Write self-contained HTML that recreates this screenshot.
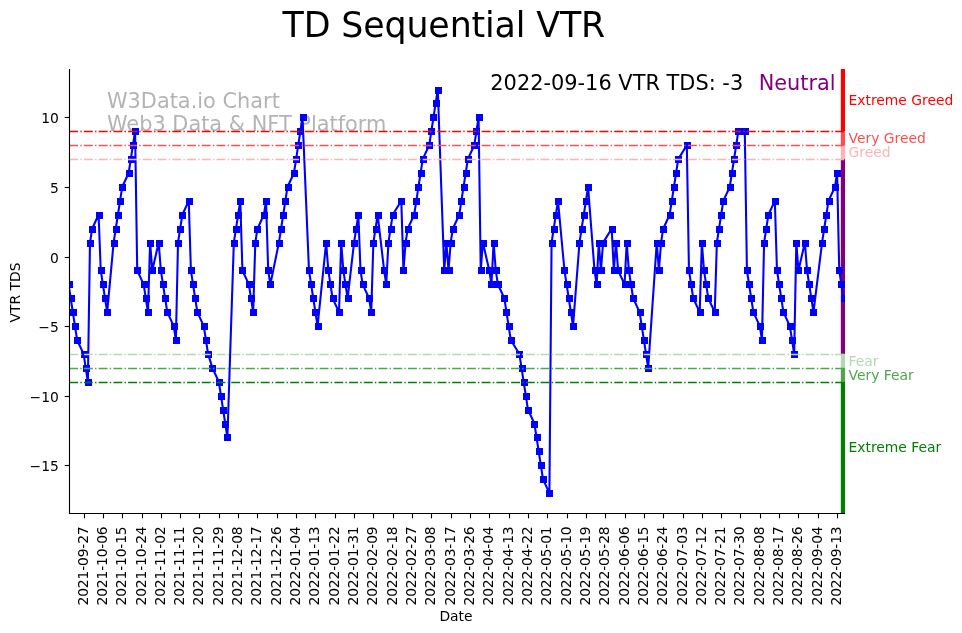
<!DOCTYPE html>
<html lang="en"><head><meta charset="utf-8"><title>TD Sequential VTR</title>
<style>html,body{margin:0;padding:0;background:#fff}body{width:962px;height:633px;overflow:hidden}svg{display:block}</style>
</head><body>
<svg width="962" height="633" viewBox="0 0 962 633" font-family="DejaVu Sans, Liberation Sans, sans-serif">
<rect width="962" height="633" fill="#fff"/>
<defs><clipPath id="ax"><rect x="69.0" y="69.0" width="776.0" height="444.5"/></clipPath></defs>
<text x="106.9" y="107.8" font-size="20.88" fill="#808080" fill-opacity="0.6">W3Data.io Chart</text>
<text x="106.9" y="130.5" font-size="20.88" fill="#808080" fill-opacity="0.6">Web3 Data &amp; NFT Platform</text>
<g clip-path="url(#ax)">
<rect x="840.83" y="69.00" width="4.17" height="62.28" fill="#ff0000" fill-opacity="1"/>
<rect x="840.83" y="131.28" width="4.17" height="13.92" fill="#ff4d4d" fill-opacity="1"/>
<rect x="840.83" y="145.19" width="4.17" height="13.92" fill="#ffb3b3" fill-opacity="1"/>
<rect x="840.83" y="159.11" width="4.17" height="194.82" fill="#800080" fill-opacity="1"/>
<rect x="840.83" y="353.93" width="4.17" height="13.92" fill="#b3d9b3" fill-opacity="1"/>
<rect x="840.83" y="367.85" width="4.17" height="13.92" fill="#4da64d" fill-opacity="1"/>
<rect x="840.83" y="381.76" width="4.17" height="131.74" fill="#008000" fill-opacity="1"/>
<polyline points="68.54,284.35 70.68,298.27 72.83,312.18 74.98,326.10 77.12,340.02 83.56,353.93 85.71,367.85 87.86,381.76 90.00,242.60 92.15,228.69 98.59,214.77 100.74,270.44 102.89,284.35 105.03,298.27 107.18,312.18 113.62,242.60 115.77,228.69 117.91,214.77 120.06,200.86 122.21,186.94 128.65,173.02 130.79,159.11 132.94,145.19 135.09,131.28 137.23,270.44 143.67,284.35 145.82,298.27 147.97,312.18 150.11,242.60 152.26,270.44 158.70,242.60 160.85,270.44 163.00,284.35 165.14,298.27 167.29,312.18 173.73,326.10 175.88,340.02 178.02,242.60 180.17,228.69 182.32,214.77 188.76,200.86 190.90,270.44 193.05,284.35 195.20,298.27 197.34,312.18 203.79,326.10 205.93,340.02 208.08,353.93 212.37,367.85 218.81,381.76 220.96,395.68 223.11,409.60 225.25,423.51 227.40,437.43 233.84,242.60 235.99,228.69 238.13,214.77 240.28,200.86 242.43,270.44 248.87,284.35 251.02,298.27 253.16,312.18 255.31,242.60 257.46,228.69 263.90,214.77 266.04,200.86 268.19,270.44 270.34,284.35 278.92,242.60 281.07,228.69 283.22,214.77 285.36,200.86 287.51,186.94 293.95,173.02 296.10,159.11 298.25,145.19 300.39,131.28 302.54,117.36 308.98,270.44 311.13,284.35 313.27,298.27 315.42,312.18 317.57,326.10 326.15,242.60 328.30,270.44 330.45,284.35 332.59,298.27 339.03,312.18 341.18,242.60 343.33,270.44 345.48,284.35 347.62,298.27 354.06,242.60 356.21,228.69 358.36,214.77 360.50,270.44 362.65,284.35 369.09,298.27 371.24,312.18 373.38,242.60 375.53,228.69 377.68,214.77 384.12,270.44 386.26,284.35 388.41,242.60 390.56,228.69 392.70,214.77 401.29,200.86 403.44,270.44 405.59,242.60 407.73,228.69 414.17,214.77 416.32,200.86 418.47,186.94 420.61,173.02 422.76,159.11 429.20,145.19 431.35,131.28 433.49,117.36 435.64,103.44 437.79,89.53 444.23,270.44 446.38,242.60 448.52,270.44 450.67,242.60 452.82,228.69 459.26,214.77 461.40,200.86 463.55,186.94 465.70,173.02 467.84,159.11 474.28,145.19 476.43,131.28 478.58,117.36 480.72,270.44 482.87,242.60 489.31,270.44 491.46,284.35 493.61,242.60 495.75,270.44 497.90,284.35 504.34,298.27 506.49,312.18 508.63,326.10 510.78,340.02 519.37,353.93 521.51,367.85 523.66,381.76 525.81,395.68 527.95,409.60 534.39,423.51 536.54,437.43 538.69,451.34 540.84,465.26 542.98,479.18 549.42,493.09 551.57,242.60 553.72,228.69 555.86,214.77 558.01,200.86 564.45,270.44 566.60,284.35 568.74,298.27 570.89,312.18 573.04,326.10 579.48,242.60 581.62,228.69 583.77,214.77 585.92,200.86 588.07,186.94 594.51,270.44 596.65,284.35 598.80,242.60 600.95,270.44 603.09,242.60 611.68,228.69 613.83,270.44 615.97,242.60 618.12,270.44 624.56,284.35 626.71,242.60 628.85,270.44 631.00,284.35 633.15,298.27 639.59,312.18 641.74,326.10 643.88,340.02 646.03,353.93 648.18,367.85 656.76,242.60 658.91,270.44 661.06,242.60 663.20,228.69 669.64,214.77 671.79,200.86 673.94,186.94 676.08,173.02 678.23,159.11 686.82,145.19 688.97,270.44 691.11,284.35 693.26,298.27 699.70,312.18 701.85,242.60 703.99,270.44 706.14,284.35 708.29,298.27 714.73,312.18 716.87,242.60 719.02,228.69 721.17,214.77 723.31,200.86 729.75,186.94 731.90,173.02 734.05,159.11 736.20,145.19 738.34,131.28 744.78,131.28 746.93,270.44 749.08,284.35 751.22,298.27 753.37,312.18 759.81,326.10 761.96,340.02 764.10,242.60 766.25,228.69 768.40,214.77 774.84,200.86 776.98,270.44 779.13,284.35 781.28,298.27 783.43,312.18 789.87,326.10 792.01,340.02 794.16,353.93 796.31,242.60 798.45,270.44 804.89,242.60 807.04,270.44 809.19,284.35 811.33,298.27 813.48,312.18 822.07,242.60 824.21,228.69 826.36,214.77 828.51,200.86 834.95,186.94 837.10,173.02 839.24,270.44 841.39,284.35 843.54,298.27" fill="none" stroke="#0000ff" stroke-width="2.08" stroke-linejoin="round"/>
<path d="M66 281h7v7h-7zM68 295h7v7h-7zM70 309h7v7h-7zM72 323h7v7h-7zM74 337h7v7h-7zM81 351h7v7h-7zM83 365h7v7h-7zM85 379h7v7h-7zM87 240h7v7h-7zM89 226h7v7h-7zM96 212h7v7h-7zM98 267h7v7h-7zM100 281h7v7h-7zM102 295h7v7h-7zM104 309h7v7h-7zM111 240h7v7h-7zM113 226h7v7h-7zM115 212h7v7h-7zM117 198h7v7h-7zM119 184h7v7h-7zM126 170h7v7h-7zM128 156h7v7h-7zM130 142h7v7h-7zM132 128h7v7h-7zM134 267h7v7h-7zM141 281h7v7h-7zM143 295h7v7h-7zM145 309h7v7h-7zM147 240h7v7h-7zM149 267h7v7h-7zM156 240h7v7h-7zM158 267h7v7h-7zM160 281h7v7h-7zM162 295h7v7h-7zM164 309h7v7h-7zM171 323h7v7h-7zM173 337h7v7h-7zM175 240h7v7h-7zM177 226h7v7h-7zM179 212h7v7h-7zM186 198h7v7h-7zM188 267h7v7h-7zM190 281h7v7h-7zM192 295h7v7h-7zM194 309h7v7h-7zM201 323h7v7h-7zM203 337h7v7h-7zM205 351h7v7h-7zM209 365h7v7h-7zM216 379h7v7h-7zM218 393h7v7h-7zM220 407h7v7h-7zM222 421h7v7h-7zM224 434h7v7h-7zM231 240h7v7h-7zM233 226h7v7h-7zM235 212h7v7h-7zM237 198h7v7h-7zM239 267h7v7h-7zM246 281h7v7h-7zM248 295h7v7h-7zM250 309h7v7h-7zM252 240h7v7h-7zM254 226h7v7h-7zM261 212h7v7h-7zM263 198h7v7h-7zM265 267h7v7h-7zM267 281h7v7h-7zM276 240h7v7h-7zM278 226h7v7h-7zM280 212h7v7h-7zM282 198h7v7h-7zM285 184h7v7h-7zM291 170h7v7h-7zM293 156h7v7h-7zM295 142h7v7h-7zM297 128h7v7h-7zM300 114h7v7h-7zM306 267h7v7h-7zM308 281h7v7h-7zM310 295h7v7h-7zM312 309h7v7h-7zM315 323h7v7h-7zM323 240h7v7h-7zM325 267h7v7h-7zM327 281h7v7h-7zM330 295h7v7h-7zM336 309h7v7h-7zM338 240h7v7h-7zM340 267h7v7h-7zM342 281h7v7h-7zM345 295h7v7h-7zM351 240h7v7h-7zM353 226h7v7h-7zM355 212h7v7h-7zM358 267h7v7h-7zM360 281h7v7h-7zM366 295h7v7h-7zM368 309h7v7h-7zM370 240h7v7h-7zM373 226h7v7h-7zM375 212h7v7h-7zM381 267h7v7h-7zM383 281h7v7h-7zM385 240h7v7h-7zM388 226h7v7h-7zM390 212h7v7h-7zM398 198h7v7h-7zM400 267h7v7h-7zM403 240h7v7h-7zM405 226h7v7h-7zM411 212h7v7h-7zM413 198h7v7h-7zM415 184h7v7h-7zM418 170h7v7h-7zM420 156h7v7h-7zM426 142h7v7h-7zM428 128h7v7h-7zM430 114h7v7h-7zM433 100h7v7h-7zM435 87h7v7h-7zM441 267h7v7h-7zM443 240h7v7h-7zM446 267h7v7h-7zM448 240h7v7h-7zM450 226h7v7h-7zM456 212h7v7h-7zM458 198h7v7h-7zM461 184h7v7h-7zM463 170h7v7h-7zM465 156h7v7h-7zM471 142h7v7h-7zM473 128h7v7h-7zM476 114h7v7h-7zM478 267h7v7h-7zM480 240h7v7h-7zM486 267h7v7h-7zM488 281h7v7h-7zM491 240h7v7h-7zM493 267h7v7h-7zM495 281h7v7h-7zM501 295h7v7h-7zM503 309h7v7h-7zM506 323h7v7h-7zM508 337h7v7h-7zM516 351h7v7h-7zM519 365h7v7h-7zM521 379h7v7h-7zM523 393h7v7h-7zM525 407h7v7h-7zM531 421h7v7h-7zM534 434h7v7h-7zM536 448h7v7h-7zM538 462h7v7h-7zM540 476h7v7h-7zM546 490h7v7h-7zM549 240h7v7h-7zM551 226h7v7h-7zM553 212h7v7h-7zM555 198h7v7h-7zM561 267h7v7h-7zM564 281h7v7h-7zM566 295h7v7h-7zM568 309h7v7h-7zM570 323h7v7h-7zM576 240h7v7h-7zM579 226h7v7h-7zM581 212h7v7h-7zM583 198h7v7h-7zM585 184h7v7h-7zM592 267h7v7h-7zM594 281h7v7h-7zM596 240h7v7h-7zM598 267h7v7h-7zM600 240h7v7h-7zM609 226h7v7h-7zM611 267h7v7h-7zM613 240h7v7h-7zM615 267h7v7h-7zM622 281h7v7h-7zM624 240h7v7h-7zM626 267h7v7h-7zM628 281h7v7h-7zM630 295h7v7h-7zM637 309h7v7h-7zM639 323h7v7h-7zM641 337h7v7h-7zM643 351h7v7h-7zM645 365h7v7h-7zM654 240h7v7h-7zM656 267h7v7h-7zM658 240h7v7h-7zM660 226h7v7h-7zM667 212h7v7h-7zM669 198h7v7h-7zM671 184h7v7h-7zM673 170h7v7h-7zM675 156h7v7h-7zM684 142h7v7h-7zM686 267h7v7h-7zM688 281h7v7h-7zM690 295h7v7h-7zM697 309h7v7h-7zM699 240h7v7h-7zM701 267h7v7h-7zM703 281h7v7h-7zM705 295h7v7h-7zM712 309h7v7h-7zM714 240h7v7h-7zM716 226h7v7h-7zM718 212h7v7h-7zM720 198h7v7h-7zM727 184h7v7h-7zM729 170h7v7h-7zM731 156h7v7h-7zM733 142h7v7h-7zM735 128h7v7h-7zM742 128h7v7h-7zM744 267h7v7h-7zM746 281h7v7h-7zM748 295h7v7h-7zM750 309h7v7h-7zM757 323h7v7h-7zM759 337h7v7h-7zM761 240h7v7h-7zM763 226h7v7h-7zM765 212h7v7h-7zM772 198h7v7h-7zM774 267h7v7h-7zM776 281h7v7h-7zM778 295h7v7h-7zM780 309h7v7h-7zM787 323h7v7h-7zM789 337h7v7h-7zM791 351h7v7h-7zM793 240h7v7h-7zM795 267h7v7h-7zM802 240h7v7h-7zM804 267h7v7h-7zM806 281h7v7h-7zM808 295h7v7h-7zM810 309h7v7h-7zM819 240h7v7h-7zM821 226h7v7h-7zM823 212h7v7h-7zM826 198h7v7h-7zM832 184h7v7h-7zM834 170h7v7h-7zM836 267h7v7h-7zM838 281h7v7h-7zM841 295h7v7h-7z" fill="#0000ff" shape-rendering="crispEdges"/>
<line x1="69.2" x2="844.5" y1="131.5" y2="131.5" stroke="#ff0000" stroke-opacity="1" stroke-width="1.39" stroke-dasharray="8.9 2.22 1.39 2.22"/>
<line x1="69.2" x2="844.5" y1="145.5" y2="145.5" stroke="#ff4d4d" stroke-opacity="1" stroke-width="1.39" stroke-dasharray="8.9 2.22 1.39 2.22"/>
<line x1="69.2" x2="844.5" y1="159.5" y2="159.5" stroke="#ffb3b3" stroke-opacity="1" stroke-width="1.39" stroke-dasharray="8.9 2.22 1.39 2.22"/>
<line x1="69.2" x2="844.5" y1="354.5" y2="354.5" stroke="#b3d9b3" stroke-opacity="1" stroke-width="1.39" stroke-dasharray="8.9 2.22 1.39 2.22"/>
<line x1="69.2" x2="844.5" y1="368.5" y2="368.5" stroke="#4da64d" stroke-opacity="1" stroke-width="1.39" stroke-dasharray="8.9 2.22 1.39 2.22"/>
<line x1="69.2" x2="844.5" y1="382.5" y2="382.5" stroke="#008000" stroke-opacity="1" stroke-width="1.39" stroke-dasharray="8.9 2.22 1.39 2.22"/>
</g>
<path d="M69.5 69.5V513.5H844.5" fill="none" stroke="#000" stroke-width="1.11" stroke-linecap="square"/>
<line x1="64.64" x2="69.5" y1="117.50" y2="117.50" stroke="#000" stroke-width="1.11"/>
<text x="58.80" y="123.30" font-size="13.89" text-anchor="end">10</text>
<line x1="64.64" x2="69.5" y1="187.50" y2="187.50" stroke="#000" stroke-width="1.11"/>
<text x="58.80" y="193.30" font-size="13.89" text-anchor="end">5</text>
<line x1="64.64" x2="69.5" y1="257.50" y2="257.50" stroke="#000" stroke-width="1.11"/>
<text x="58.80" y="263.30" font-size="13.89" text-anchor="end">0</text>
<line x1="64.64" x2="69.5" y1="326.50" y2="326.50" stroke="#000" stroke-width="1.11"/>
<text x="58.80" y="332.30" font-size="13.89" text-anchor="end">−5</text>
<line x1="64.64" x2="69.5" y1="396.50" y2="396.50" stroke="#000" stroke-width="1.11"/>
<text x="58.80" y="402.30" font-size="13.89" text-anchor="end">−10</text>
<line x1="64.64" x2="69.5" y1="465.50" y2="465.50" stroke="#000" stroke-width="1.11"/>
<text x="58.80" y="471.30" font-size="13.89" text-anchor="end">−15</text>
<line x1="84.50" x2="84.50" y1="513.5" y2="518.36" stroke="#000" stroke-width="1.11"/>
<text transform="translate(88.10,526.30) rotate(-90)" font-size="13.89" text-anchor="end" textLength="79.2" lengthAdjust="spacing">2021-09-27</text>
<line x1="103.50" x2="103.50" y1="513.5" y2="518.36" stroke="#000" stroke-width="1.11"/>
<text transform="translate(107.10,526.30) rotate(-90)" font-size="13.89" text-anchor="end" textLength="79.2" lengthAdjust="spacing">2021-10-06</text>
<line x1="122.50" x2="122.50" y1="513.5" y2="518.36" stroke="#000" stroke-width="1.11"/>
<text transform="translate(126.10,526.30) rotate(-90)" font-size="13.89" text-anchor="end" textLength="79.2" lengthAdjust="spacing">2021-10-15</text>
<line x1="142.50" x2="142.50" y1="513.5" y2="518.36" stroke="#000" stroke-width="1.11"/>
<text transform="translate(146.10,526.30) rotate(-90)" font-size="13.89" text-anchor="end" textLength="79.2" lengthAdjust="spacing">2021-10-24</text>
<line x1="161.50" x2="161.50" y1="513.5" y2="518.36" stroke="#000" stroke-width="1.11"/>
<text transform="translate(165.10,526.30) rotate(-90)" font-size="13.89" text-anchor="end" textLength="79.2" lengthAdjust="spacing">2021-11-02</text>
<line x1="180.50" x2="180.50" y1="513.5" y2="518.36" stroke="#000" stroke-width="1.11"/>
<text transform="translate(184.10,526.30) rotate(-90)" font-size="13.89" text-anchor="end" textLength="79.2" lengthAdjust="spacing">2021-11-11</text>
<line x1="199.50" x2="199.50" y1="513.5" y2="518.36" stroke="#000" stroke-width="1.11"/>
<text transform="translate(203.10,526.30) rotate(-90)" font-size="13.89" text-anchor="end" textLength="79.2" lengthAdjust="spacing">2021-11-20</text>
<line x1="219.50" x2="219.50" y1="513.5" y2="518.36" stroke="#000" stroke-width="1.11"/>
<text transform="translate(223.10,526.30) rotate(-90)" font-size="13.89" text-anchor="end" textLength="79.2" lengthAdjust="spacing">2021-11-29</text>
<line x1="238.50" x2="238.50" y1="513.5" y2="518.36" stroke="#000" stroke-width="1.11"/>
<text transform="translate(242.10,526.30) rotate(-90)" font-size="13.89" text-anchor="end" textLength="79.2" lengthAdjust="spacing">2021-12-08</text>
<line x1="257.50" x2="257.50" y1="513.5" y2="518.36" stroke="#000" stroke-width="1.11"/>
<text transform="translate(261.10,526.30) rotate(-90)" font-size="13.89" text-anchor="end" textLength="79.2" lengthAdjust="spacing">2021-12-17</text>
<line x1="277.50" x2="277.50" y1="513.5" y2="518.36" stroke="#000" stroke-width="1.11"/>
<text transform="translate(281.10,526.30) rotate(-90)" font-size="13.89" text-anchor="end" textLength="79.2" lengthAdjust="spacing">2021-12-26</text>
<line x1="296.50" x2="296.50" y1="513.5" y2="518.36" stroke="#000" stroke-width="1.11"/>
<text transform="translate(300.10,526.30) rotate(-90)" font-size="13.89" text-anchor="end" textLength="79.2" lengthAdjust="spacing">2022-01-04</text>
<line x1="315.50" x2="315.50" y1="513.5" y2="518.36" stroke="#000" stroke-width="1.11"/>
<text transform="translate(319.10,526.30) rotate(-90)" font-size="13.89" text-anchor="end" textLength="79.2" lengthAdjust="spacing">2022-01-13</text>
<line x1="335.50" x2="335.50" y1="513.5" y2="518.36" stroke="#000" stroke-width="1.11"/>
<text transform="translate(339.10,526.30) rotate(-90)" font-size="13.89" text-anchor="end" textLength="79.2" lengthAdjust="spacing">2022-01-22</text>
<line x1="354.50" x2="354.50" y1="513.5" y2="518.36" stroke="#000" stroke-width="1.11"/>
<text transform="translate(358.10,526.30) rotate(-90)" font-size="13.89" text-anchor="end" textLength="79.2" lengthAdjust="spacing">2022-01-31</text>
<line x1="373.50" x2="373.50" y1="513.5" y2="518.36" stroke="#000" stroke-width="1.11"/>
<text transform="translate(377.10,526.30) rotate(-90)" font-size="13.89" text-anchor="end" textLength="79.2" lengthAdjust="spacing">2022-02-09</text>
<line x1="393.50" x2="393.50" y1="513.5" y2="518.36" stroke="#000" stroke-width="1.11"/>
<text transform="translate(397.10,526.30) rotate(-90)" font-size="13.89" text-anchor="end" textLength="79.2" lengthAdjust="spacing">2022-02-18</text>
<line x1="412.50" x2="412.50" y1="513.5" y2="518.36" stroke="#000" stroke-width="1.11"/>
<text transform="translate(416.10,526.30) rotate(-90)" font-size="13.89" text-anchor="end" textLength="79.2" lengthAdjust="spacing">2022-02-27</text>
<line x1="431.50" x2="431.50" y1="513.5" y2="518.36" stroke="#000" stroke-width="1.11"/>
<text transform="translate(435.10,526.30) rotate(-90)" font-size="13.89" text-anchor="end" textLength="79.2" lengthAdjust="spacing">2022-03-08</text>
<line x1="451.50" x2="451.50" y1="513.5" y2="518.36" stroke="#000" stroke-width="1.11"/>
<text transform="translate(455.10,526.30) rotate(-90)" font-size="13.89" text-anchor="end" textLength="79.2" lengthAdjust="spacing">2022-03-17</text>
<line x1="470.50" x2="470.50" y1="513.5" y2="518.36" stroke="#000" stroke-width="1.11"/>
<text transform="translate(474.10,526.30) rotate(-90)" font-size="13.89" text-anchor="end" textLength="79.2" lengthAdjust="spacing">2022-03-26</text>
<line x1="489.50" x2="489.50" y1="513.5" y2="518.36" stroke="#000" stroke-width="1.11"/>
<text transform="translate(493.10,526.30) rotate(-90)" font-size="13.89" text-anchor="end" textLength="79.2" lengthAdjust="spacing">2022-04-04</text>
<line x1="509.50" x2="509.50" y1="513.5" y2="518.36" stroke="#000" stroke-width="1.11"/>
<text transform="translate(513.10,526.30) rotate(-90)" font-size="13.89" text-anchor="end" textLength="79.2" lengthAdjust="spacing">2022-04-13</text>
<line x1="528.50" x2="528.50" y1="513.5" y2="518.36" stroke="#000" stroke-width="1.11"/>
<text transform="translate(532.10,526.30) rotate(-90)" font-size="13.89" text-anchor="end" textLength="79.2" lengthAdjust="spacing">2022-04-22</text>
<line x1="547.50" x2="547.50" y1="513.5" y2="518.36" stroke="#000" stroke-width="1.11"/>
<text transform="translate(551.10,526.30) rotate(-90)" font-size="13.89" text-anchor="end" textLength="79.2" lengthAdjust="spacing">2022-05-01</text>
<line x1="567.50" x2="567.50" y1="513.5" y2="518.36" stroke="#000" stroke-width="1.11"/>
<text transform="translate(571.10,526.30) rotate(-90)" font-size="13.89" text-anchor="end" textLength="79.2" lengthAdjust="spacing">2022-05-10</text>
<line x1="586.50" x2="586.50" y1="513.5" y2="518.36" stroke="#000" stroke-width="1.11"/>
<text transform="translate(590.10,526.30) rotate(-90)" font-size="13.89" text-anchor="end" textLength="79.2" lengthAdjust="spacing">2022-05-19</text>
<line x1="605.50" x2="605.50" y1="513.5" y2="518.36" stroke="#000" stroke-width="1.11"/>
<text transform="translate(609.10,526.30) rotate(-90)" font-size="13.89" text-anchor="end" textLength="79.2" lengthAdjust="spacing">2022-05-28</text>
<line x1="625.50" x2="625.50" y1="513.5" y2="518.36" stroke="#000" stroke-width="1.11"/>
<text transform="translate(629.10,526.30) rotate(-90)" font-size="13.89" text-anchor="end" textLength="79.2" lengthAdjust="spacing">2022-06-06</text>
<line x1="644.50" x2="644.50" y1="513.5" y2="518.36" stroke="#000" stroke-width="1.11"/>
<text transform="translate(648.10,526.30) rotate(-90)" font-size="13.89" text-anchor="end" textLength="79.2" lengthAdjust="spacing">2022-06-15</text>
<line x1="663.50" x2="663.50" y1="513.5" y2="518.36" stroke="#000" stroke-width="1.11"/>
<text transform="translate(667.10,526.30) rotate(-90)" font-size="13.89" text-anchor="end" textLength="79.2" lengthAdjust="spacing">2022-06-24</text>
<line x1="683.50" x2="683.50" y1="513.5" y2="518.36" stroke="#000" stroke-width="1.11"/>
<text transform="translate(687.10,526.30) rotate(-90)" font-size="13.89" text-anchor="end" textLength="79.2" lengthAdjust="spacing">2022-07-03</text>
<line x1="702.50" x2="702.50" y1="513.5" y2="518.36" stroke="#000" stroke-width="1.11"/>
<text transform="translate(706.10,526.30) rotate(-90)" font-size="13.89" text-anchor="end" textLength="79.2" lengthAdjust="spacing">2022-07-12</text>
<line x1="721.50" x2="721.50" y1="513.5" y2="518.36" stroke="#000" stroke-width="1.11"/>
<text transform="translate(725.10,526.30) rotate(-90)" font-size="13.89" text-anchor="end" textLength="79.2" lengthAdjust="spacing">2022-07-21</text>
<line x1="740.50" x2="740.50" y1="513.5" y2="518.36" stroke="#000" stroke-width="1.11"/>
<text transform="translate(744.10,526.30) rotate(-90)" font-size="13.89" text-anchor="end" textLength="79.2" lengthAdjust="spacing">2022-07-30</text>
<line x1="760.50" x2="760.50" y1="513.5" y2="518.36" stroke="#000" stroke-width="1.11"/>
<text transform="translate(764.10,526.30) rotate(-90)" font-size="13.89" text-anchor="end" textLength="79.2" lengthAdjust="spacing">2022-08-08</text>
<line x1="779.50" x2="779.50" y1="513.5" y2="518.36" stroke="#000" stroke-width="1.11"/>
<text transform="translate(783.10,526.30) rotate(-90)" font-size="13.89" text-anchor="end" textLength="79.2" lengthAdjust="spacing">2022-08-17</text>
<line x1="798.50" x2="798.50" y1="513.5" y2="518.36" stroke="#000" stroke-width="1.11"/>
<text transform="translate(802.10,526.30) rotate(-90)" font-size="13.89" text-anchor="end" textLength="79.2" lengthAdjust="spacing">2022-08-26</text>
<line x1="818.50" x2="818.50" y1="513.5" y2="518.36" stroke="#000" stroke-width="1.11"/>
<text transform="translate(822.10,526.30) rotate(-90)" font-size="13.89" text-anchor="end" textLength="79.2" lengthAdjust="spacing">2022-09-04</text>
<line x1="837.50" x2="837.50" y1="513.5" y2="518.36" stroke="#000" stroke-width="1.11"/>
<text transform="translate(841.10,526.30) rotate(-90)" font-size="13.89" text-anchor="end" textLength="79.2" lengthAdjust="spacing">2022-09-13</text>
<text x="456.00" y="620.9" font-size="13.89" text-anchor="middle">Date</text>
<text transform="translate(19.8,292.50) rotate(-90)" font-size="13.89" text-anchor="middle">VTR TDS</text>
<text x="443.9" y="37.0" font-size="34.8" text-anchor="middle" textLength="322.6" lengthAdjust="spacing">TD Sequential VTR</text>
<text x="490.3" y="89.9" font-size="20.9">2022-09-16 VTR TDS: -3</text>
<text x="758.7" y="89.9" font-size="20.83" fill="#800080">Neutral</text>
<text x="848.5" y="105" font-size="13.89" fill="#ff0000" fill-opacity="1">Extreme Greed</text>
<text x="848.5" y="143" font-size="13.89" fill="#ff4d4d" fill-opacity="1">Very Greed</text>
<text x="848.5" y="157" font-size="13.89" fill="#ffb3b3" fill-opacity="1">Greed</text>
<text x="848.5" y="366" font-size="13.89" fill="#b3d9b3" fill-opacity="1">Fear</text>
<text x="848.5" y="380" font-size="13.89" fill="#4da64d" fill-opacity="1">Very Fear</text>
<text x="848.5" y="452" font-size="13.89" fill="#008000" fill-opacity="1">Extreme Fear</text>
</svg>
</body></html>
